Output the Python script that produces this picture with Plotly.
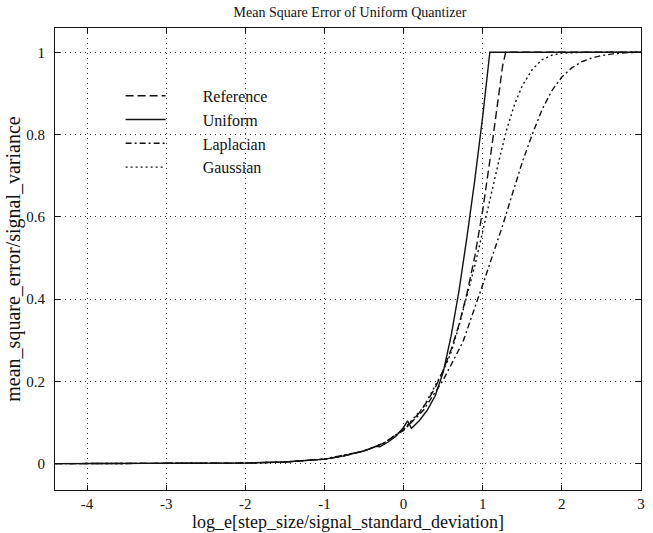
import plotly.graph_objects as go

# ---- data ----
x_ref = [-4.4, -3.5, -3.0, -2.5, -2.0, -1.5, -1.0, -0.75, -0.5, -0.25, 0.0, 0.1, 0.2, 0.3,
         0.4, 0.5, 0.6, 0.7, 0.8, 0.9, 1.0, 1.1, 1.15, 1.2, 1.25, 1.29, 1.5, 2.0, 2.5, 3.0]
y_ref = [0.0, 0.0001, 0.0002, 0.0006, 0.0015, 0.0041, 0.011, 0.019, 0.031, 0.05, 0.083,
         0.102, 0.124, 0.152, 0.185, 0.227, 0.277, 0.338, 0.413, 0.504, 0.616, 0.75,
         0.825, 0.9, 0.965, 1.0, 1.0, 1.0, 1.0, 1.0]

x_uni = [-4.4, -3.5, -3.0, -2.5, -2.0, -1.5, -1.0, -0.75, -0.5, -0.4, -0.35, -0.3, -0.2,
         -0.1, 0.0, 0.05, 0.1, 0.2, 0.3, 0.4, 0.5, 0.6, 0.7, 0.8, 0.9, 1.0, 1.09, 1.5,
         2.0, 2.5, 3.0]
y_uni = [0.0, 0.0001, 0.0002, 0.0006, 0.0015, 0.0041, 0.011, 0.019, 0.031, 0.038, 0.042,
         0.041, 0.052, 0.066, 0.088, 0.104, 0.086, 0.105, 0.13, 0.165, 0.222, 0.31,
         0.42, 0.55, 0.69, 0.845, 1.0, 1.0, 1.0, 1.0, 1.0]

x_lap = [-4.4, -3.5, -3.0, -2.5, -2.0, -1.5, -1.0, -0.5, -0.25, 0.0, 0.25, 0.5, 0.75,
         1.0, 1.125, 1.25, 1.375, 1.5, 1.625, 1.75, 1.875, 2.0, 2.125, 2.25, 2.375,
         2.5, 2.65, 2.8, 3.0]
y_lap = [0.0, 0.0001, 0.0002, 0.0006, 0.0015, 0.0041, 0.011, 0.031, 0.05, 0.081, 0.13,
         0.203, 0.296, 0.435, 0.507, 0.578, 0.656, 0.733, 0.800, 0.861, 0.907, 0.940,
         0.962, 0.977, 0.986, 0.992, 0.996, 0.999, 1.0]

x_gau = [-4.4, -3.5, -3.0, -2.5, -2.0, -1.5, -1.0, -0.5, -0.25, 0.0, 0.25, 0.5, 0.6, 0.7,
         0.8, 0.9, 1.0, 1.1, 1.2, 1.3, 1.4, 1.5, 1.625, 1.75, 1.875, 2.0, 2.15, 2.3, 3.0]
y_gau = [0.0, 0.0001, 0.0002, 0.0006, 0.0015, 0.0041, 0.011, 0.031, 0.05, 0.083, 0.137,
         0.225, 0.27, 0.335, 0.406, 0.481, 0.565, 0.653, 0.733, 0.81, 0.872, 0.919,
         0.958, 0.982, 0.993, 0.998, 0.9995, 1.0, 1.0]

x_ticks = [-4, -3, -2, -1, 0, 1, 2, 3]
x_ticktext = ["-4", "-3", "-2", "-1", "0", "1", "2", "3"]
y_ticks = [0, 0.2, 0.4, 0.6, 0.8, 1.0]
y_ticktext = ["0", "0.2", "0.4", "0.6", "0.8", "1"]

FONT = "Liberation Serif"
INK = "#111111"
PAD = "\u00a0" * 8

fig = go.Figure()
series = [
    ("Reference", x_ref, y_ref, "8px,4px"),
    ("Uniform", x_uni, y_uni, "solid"),
    ("Laplacian", x_lap, y_lap, "6px,3px,2px,3px"),
    ("Gaussian", x_gau, y_gau, "2px,3px"),
]
for i, (name, xs, ys, dash) in enumerate(series):
    fig.add_trace(go.Scatter(
        x=xs, y=ys, mode="lines", name=PAD + name, legendgroup=f"g{i}",
        line=dict(color=INK, width=1.4, dash=dash, shape="linear"),
    ))

axis_common = dict(
    showline=True, linecolor=INK, linewidth=1.2, mirror="allticks",
    ticks="inside", ticklen=5, tickcolor=INK, tickwidth=1,
    showgrid=True, gridcolor="#333333", gridwidth=1, griddash="1px,4px",
    zeroline=False, tickfont=dict(family=FONT, size=15, color=INK),
)

fig.update_layout(
    width=653, height=533,
    margin=dict(l=55, r=8, t=28, b=40),
    paper_bgcolor="white", plot_bgcolor="white",
    font=dict(family=FONT, size=15, color=INK),
    title=dict(text="Mean Square Error of Uniform Quantizer", x=0.536, xanchor="center",
               y=0.977, yanchor="middle", font=dict(family=FONT, size=14, color=INK)),
    xaxis=dict(range=[-4.405, 3.0], tickvals=x_ticks, ticktext=x_ticktext,
               title=dict(text="log_e[step_size/signal_standard_deviation]", standoff=0,
                          font=dict(family=FONT, size=18, color=INK)),
               **axis_common),
    yaxis=dict(range=[-0.064, 1.059], tickvals=y_ticks, ticktext=y_ticktext,
               ticklabelstandoff=6,
               title=dict(text="mean_square_error/signal_variance", standoff=0,
                          font=dict(family=FONT, size=20, color=INK)),
               **axis_common),
    legend=dict(x=0.112, y=0.89, xanchor="left", yanchor="top",
                bgcolor="rgba(0,0,0,0)", borderwidth=0, tracegroupgap=0,
                itemwidth=40, font=dict(family=FONT, size=16, color=INK)),
    showlegend=True,
)

fig.write_html("out.html")
